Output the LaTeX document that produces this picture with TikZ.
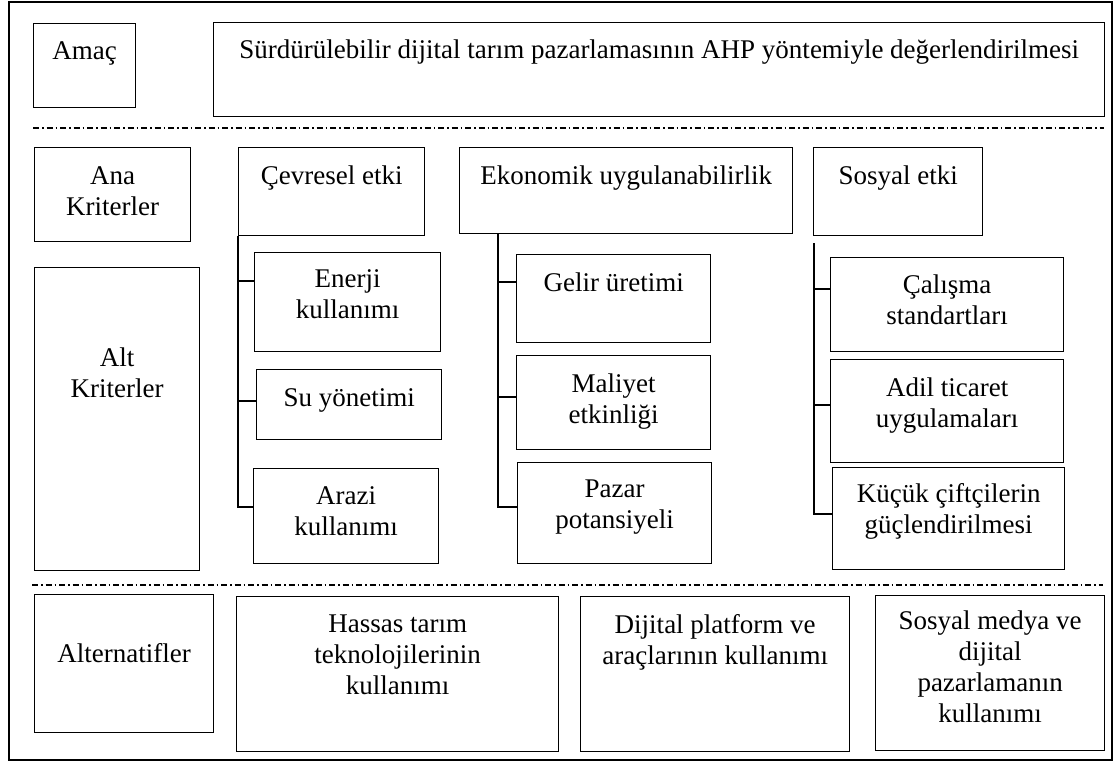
\documentclass[tikz,border=0pt]{standalone}
\usepackage{fontspec}
\setmainfont{Liberation Serif}
\usetikzlibrary{calc}
\newcommand{\kyazi}[4]{\parbox[t][#2pt][t]{#1pt}{\centering\rule{0pt}{#3pt}#4\par}}

\begin{document}
\begin{tikzpicture}[x=1pt,y=-1pt,
    font=\fontsize{27}{31}\selectfont,
    kutu/.style={draw, line width=1.4pt, inner sep=0pt, anchor=north west},
    kesik/.style={line width=1.3pt, dash pattern=on 6pt off 3pt on 1.5pt off 3pt},
    dal/.style={line width=1.4pt}]
          \useasboundingbox (0,0) rectangle (1114,762);
          \draw[line width=1.4pt] (9,2) rectangle (1112,760);
          \node[kutu] (amac) at (33,23) {\kyazi{102}{84}{36}{Amaç}};
          \node[kutu] (hedef) at (213,22) {\kyazi{891}{94}{36}{Sürdürülebilir dijital tarım pazarlamasının AHP yöntemiyle değerlendirilmesi}};
          \draw[kesik] (33,128) -- (1104,128);
          \node[kutu] (ana) at (34,147) {\kyazi{156}{94}{37}{Ana\\Kriterler}};
          \node[kutu] (cevre) at (238,147) {\kyazi{186}{88}{37}{Çevresel etki}};
          \node[kutu] (ekonomi) at (459,147) {\kyazi{333}{86}{37}{Ekonomik uygulanabilirlik}};
          \node[kutu] (sosyal) at (813,147) {\kyazi{169}{88}{37}{Sosyal etki}};
          \node[kutu] (alt) at (34,267) {\kyazi{165}{303}{99}{Alt\\Kriterler}};
          \node[kutu] (enerji) at (254,252) {\kyazi{186}{99}{35}{Enerji\\kullanımı}};
          \node[kutu] (su) at (256,369) {\kyazi{185}{70}{37}{Su yönetimi}};
          \node[kutu] (arazi) at (253,468) {\kyazi{185}{95}{36}{Arazi\\kullanımı}};
          \node[kutu] (gelir) at (516,254) {\kyazi{194}{88}{37}{Gelir üretimi}};
          \node[kutu] (maliyet) at (516,355) {\kyazi{194}{94}{37}{Maliyet\\etkinliği}};
          \node[kutu] (pazar) at (517,462) {\kyazi{194}{101}{35}{Pazar\\potansiyeli}};
          \node[kutu] (calisma) at (830,257) {\kyazi{233}{94}{36}{Çalışma\\standartları}};
          \node[kutu] (adil) at (830,359) {\kyazi{233}{103}{37}{Adil ticaret\\uygulamaları}};
          \node[kutu] (kucuk) at (832,467) {\kyazi{232}{102}{35}{Küçük çiftçilerin\\güçlendirilmesi}};
          \draw[dal] (cevre.south west) -- (cevre.south west |- 0,507) -- (arazi.west |- 0,507);
          \draw[dal] (cevre.south west |- 0,281) -- (enerji.west |- 0,281);
          \draw[dal] (cevre.south west |- 0,401) -- (su.west |- 0,401);
          \draw[dal] ($(ekonomi.south west)+(39,0)$) -- ($(ekonomi.south west |- 0,507)+(39,0)$) -- (pazar.west |- 0,507);
          \draw[dal] ($(ekonomi.south west |- 0,282)+(39,0)$) -- (gelir.west |- 0,282);
          \draw[dal] ($(ekonomi.south west |- 0,397)+(39,0)$) -- (maliyet.west |- 0,397);
          \draw[dal] ($(sosyal.south west)+(1,7)$) -- ($(sosyal.south west |- 0,514)+(1,0)$) -- (kucuk.west |- 0,514);
          \draw[dal] ($(sosyal.south west |- 0,289)+(1,0)$) -- (calisma.west |- 0,289);
          \draw[dal] ($(sosyal.south west |- 0,405)+(1,0)$) -- (adil.west |- 0,405);
          \draw[kesik] (32,585) -- (1103,585);
          \node[kutu] (alternatif) at (34,594) {\kyazi{179}{138}{68}{Alternatifler}};
          \node[kutu] (hassas) at (236,596) {\kyazi{322}{155}{36}{Hassas tarım\\teknolojilerinin\\kullanımı}};
          \node[kutu] (platform) at (580,596) {\kyazi{269}{155}{37}{Dijital platform ve\\araçlarının kullanımı}};
          \node[kutu] (medya) at (875,595) {\kyazi{229}{155}{34}{Sosyal medya ve\\dijital\\pazarlamanın\\kullanımı}};
      \end{tikzpicture}
\end{document}
